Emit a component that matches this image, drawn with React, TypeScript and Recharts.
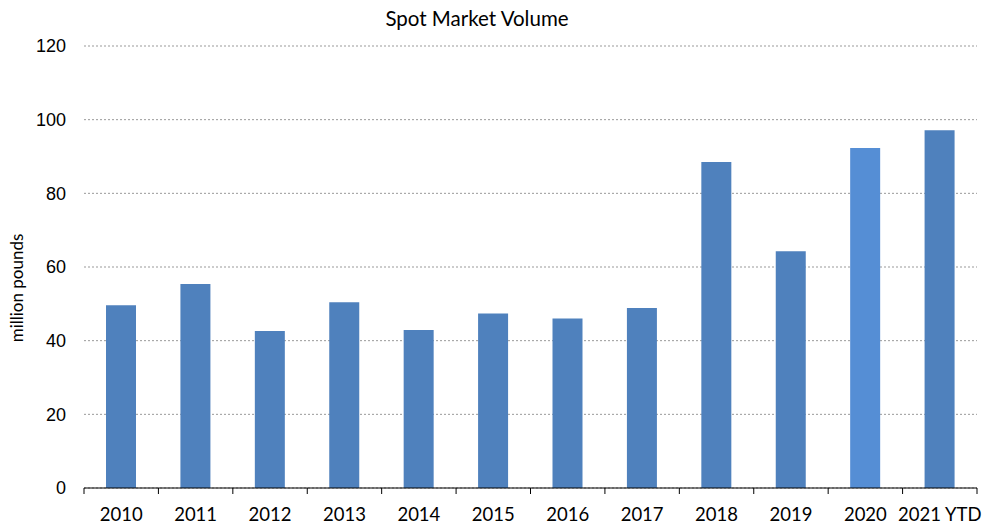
import React from 'react';
import { BarChart, Bar, XAxis, YAxis, CartesianGrid, Cell, Label } from 'recharts';

const years = ['2010', '2011', '2012', '2013', '2014', '2015', '2016', '2017', '2018', '2019', '2020', '2021 YTD'];
const volumes = [49.6, 55.4, 42.6, 50.4, 42.9, 47.4, 46.0, 48.9, 88.5, 64.3, 92.3, 97.1];
const yTicks = [0, 20, 40, 60, 80, 100, 120];

const BAR_COLOR = '#4F81BD';
const HIGHLIGHT_COLOR = '#558ED5';

const data = years.map((year, i) => ({ year, volume: volumes[i] }));

const CategoryTick = (props: any) => {
  const { x, y, payload, index } = props;
  const band = 893 / years.length;
  const left = x - band / 2;
  return (
    <g>
      <line x1={left} y1={y - 8} x2={left} y2={y - 2} stroke="#000" strokeWidth={1} />
      {index === years.length - 1 && (
        <line x1={left + band} y1={y - 8} x2={left + band} y2={y - 2} stroke="#000" strokeWidth={1} />
      )}
      <text x={x} y={y + 25} textAnchor="middle" fontSize={18.5} fontFamily="Lato, 'Open Sans', sans-serif" fill="#000">
        {payload.value}
      </text>
    </g>
  );
};

export default function App() {
  return (
    <div style={{ position: 'absolute', top: 0, left: 0, width: 983, height: 524, background: '#fff' }}>
      <div
        style={{
          position: 'absolute',
          top: 6,
          left: 0,
          width: 954,
          textAlign: 'center',
          fontFamily: "Lato, 'Open Sans', sans-serif",
          fontSize: 20.5,
          color: '#000',
        }}
      >
        Spot Market Volume
      </div>
      <BarChart
        width={983}
        height={524}
        data={data}
        margin={{ top: 46, right: 6, bottom: 0, left: 0 }}
        barSize={30}
      >
        <CartesianGrid vertical={false} stroke="#999" strokeDasharray="2 2" />
        <XAxis
          dataKey="year"
          stroke="#000"
          tickLine={false}
          tick={<CategoryTick />}
          interval={0}
          height={36}
        />
        <YAxis
          width={84}
          domain={[0, 120]}
          ticks={yTicks}
          axisLine={false}
          tickLine={false}
          tickMargin={12}
          tick={{ fontSize: 18, fill: '#000', fontFamily: "'Liberation Sans', Arial, sans-serif" }}
        >
          <Label
            value="million pounds"
            angle={-90}
            position="insideLeft"
            offset={17}
            dy={21}
            style={{ textAnchor: 'middle', fontSize: 17, fill: '#000', fontFamily: "Lato, 'Open Sans', sans-serif" }}
          />
        </YAxis>
        <Bar dataKey="volume" isAnimationActive={false}>
          {data.map((d) => (
            <Cell key={d.year} fill={d.year === '2020' ? HIGHLIGHT_COLOR : BAR_COLOR} />
          ))}
        </Bar>
      </BarChart>
    </div>
  );
}
